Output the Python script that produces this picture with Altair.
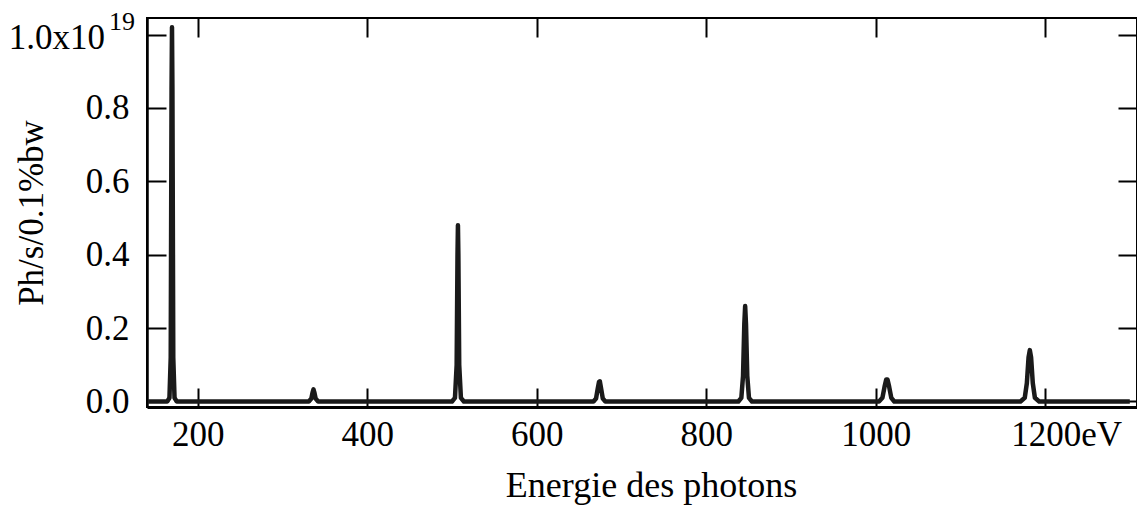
import altair as alt
import pandas as pd

FONT = "Liberation Serif"
W, H = 990, 389

# Photon energy (eV) and flux (units of 1e19 Ph/s/0.1%bw)
energy = [141, 164, 166.5, 168, 169, 169.5, 170, 171, 172.5, 175,
          331, 334, 335.5, 336.5, 337.5, 339, 342,
          500, 503.5, 505.5, 506.5, 507, 507.5, 508.5, 510.5, 514,
          667, 670, 672, 673.5, 674.5, 676, 678, 681,
          838, 841.5, 843.5, 845, 846, 847, 848.5, 850.5, 854,
          1004, 1008, 1010.5, 1012.5, 1014, 1016, 1018.5, 1022,
          1171, 1176, 1178.5, 1180.5, 1182, 1183.5, 1185.5, 1188, 1193,
          1300]
flux = [0.0, 0.0, 0.01, 0.12, 0.85, 1.02, 0.85, 0.12, 0.01, 0.0,
        0.0, 0.008, 0.025, 0.033, 0.025, 0.008, 0.0,
        0.0, 0.01, 0.10, 0.40, 0.48, 0.40, 0.10, 0.01, 0.0,
        0.0, 0.008, 0.035, 0.053, 0.055, 0.035, 0.008, 0.0,
        0.0, 0.01, 0.07, 0.21, 0.26, 0.21, 0.07, 0.01, 0.0,
        0.0, 0.01, 0.04, 0.06, 0.06, 0.04, 0.01, 0.0,
        0.0, 0.01, 0.05, 0.12, 0.14, 0.12, 0.05, 0.01, 0.0,
        0.0]

x_ticks = [200, 400, 600, 800, 1000, 1200]
y_ticks = [0.0, 0.2, 0.4, 0.6, 0.8, 1.0]
x_title = "Energie des photons"
y_title = "Ph/s/0.1%bw"
top_label = "1.0x10"
top_exp = "19"

df = pd.DataFrame({"E": energy, "F": flux})
ann = pd.DataFrame({"F": [1.0]})

xs = alt.Scale(domain=[140, 1308.5], nice=False, zero=False)
ys = alt.Scale(domain=[-0.015, 1.045], nice=False, zero=False)

common_lab = dict(labelFont=FONT, labelFontSize=35, labelColor="black",
                  labelOverlap=False, labelFlush=False, grid=False,
                  titleFont=FONT, titleFontWeight="normal", titleColor="black")

x_axis = alt.Axis(orient="bottom", values=x_ticks, ticks=False, tickSize=0,
                  labelPadding=10,
                  labelExpr="datum.value == 1200 ? '1200eV' : format(datum.value, 'd')",
                  labelOffset={"condition": {"test": "datum.value == 1200", "value": 21}, "value": 0},
                  domain=True, domainColor="black", domainWidth=3,
                  title=x_title, titleFontSize=36, titlePadding=16, titleX=504, **common_lab)
y_axis = alt.Axis(orient="left", values=y_ticks, ticks=False, tickSize=0,
                  labelPadding=18,
                  labelExpr="datum.value > 0.99 ? '' : format(datum.value, '.1f')",
                  domain=True, domainColor="black", domainWidth=2.5,
                  title=y_title, titleFontSize=35, titlePadding=36, **common_lab)


def tick_axis(orient, offset, values):
    return alt.Axis(orient=orient, offset=offset, values=values, labels=False,
                    domain=False, grid=False, ticks=True, tickSize=19,
                    tickWidth=2, tickColor="black", title=None)


base = alt.Chart(df)

line = base.mark_line(color="#1a1a1a", strokeWidth=4.5, strokeJoin="round").encode(
    x=alt.X("E:Q", scale=xs, axis=x_axis),
    y=alt.Y("F:Q", scale=ys, axis=y_axis),
)

ticks_a = base.mark_point(opacity=0, size=1).encode(
    x=alt.X("E:Q", scale=xs, axis=tick_axis("top", -H, x_ticks)),
    y=alt.Y("F:Q", scale=ys, axis=tick_axis("right", -W, y_ticks)),
)
ticks_b = base.mark_point(opacity=0, size=1).encode(
    x=alt.X("E:Q", scale=xs, axis=tick_axis("bottom", -H, x_ticks)),
    y=alt.Y("F:Q", scale=ys, axis=tick_axis("left", -W, y_ticks)),
)

t_main = alt.Chart(ann).mark_text(text=top_label, font=FONT, fontSize=35, align="right",
                                  baseline="middle", dy=3, color="black").encode(
    x=alt.value(-42), y=alt.Y("F:Q", scale=ys, axis=None))
t_exp = alt.Chart(ann).mark_text(text=top_exp, font=FONT, fontSize=26, align="left",
                                 baseline="middle", dy=-13, color="black").encode(
    x=alt.value(-38), y=alt.Y("F:Q", scale=ys, axis=None))

chart = alt.layer(line, ticks_a, ticks_b, t_main, t_exp).resolve_axis(
    x="independent", y="independent"
).properties(
    width=W, height=H,
    autosize=alt.AutoSizeParams(type="none"),
    padding={"left": 139, "top": 10, "right": 0, "bottom": 100},
    background="white",
).configure_view(stroke="black", strokeWidth=2)

chart.save("out.html", embed_options={"renderer": "svg", "actions": False})
